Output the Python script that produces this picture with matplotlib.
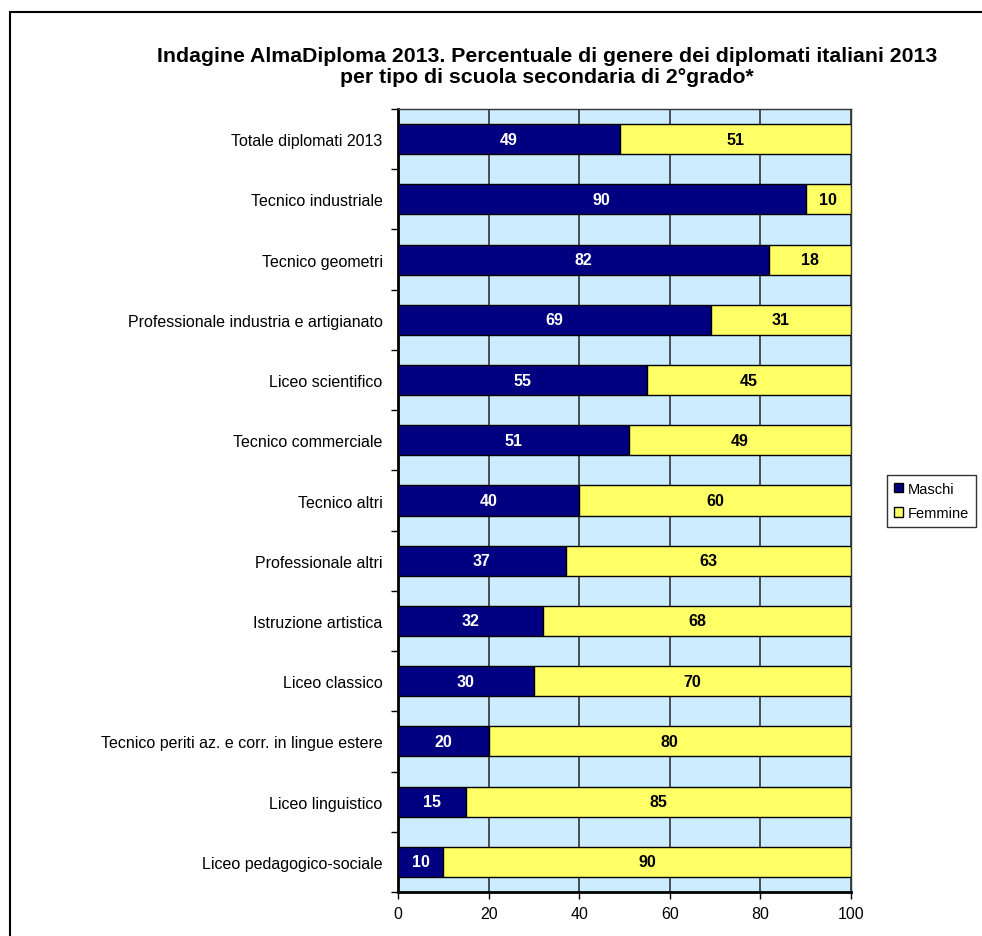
import matplotlib.pyplot as plt
import numpy as np
from matplotlib.patches import Rectangle, Patch

plt.rcParams['font.family'] = ['Liberation Sans', 'DejaVu Sans']

# Percentuali per tipo di scuola
scuole = ['Totale diplomati 2013', 'Tecnico industriale', 'Tecnico geometri',
          'Professionale industria e artigianato', 'Liceo scientifico',
          'Tecnico commerciale', 'Tecnico altri', 'Professionale altri',
          'Istruzione artistica', 'Liceo classico',
          'Tecnico periti az. e corr. in lingue estere', 'Liceo linguistico',
          'Liceo pedagogico-sociale']
maschi = [49, 90, 82, 69, 55, 51, 40, 37, 32, 30, 20, 15, 10]
femmine = [51, 10, 18, 31, 45, 49, 60, 63, 68, 70, 80, 85, 90]
xticks = [0, 20, 40, 60, 80, 100]

blu = '#000080'
giallo = '#FFFF66'
sfondo = '#CCECFF'

fig = plt.figure(figsize=(9.82, 9.37), dpi=100)
fig.patches.append(Rectangle((10 / 982, -0.05), 1.0, 1 - 13 / 937 + 0.05,
                             transform=fig.transFigure, fill=False,
                             edgecolor='black', linewidth=1.5))

ax = fig.add_axes([398 / 982, 1 - 893 / 937, 453 / 982, 783 / 937])
ax.set_facecolor(sfondo)

y = np.arange(len(scuole))
ax.barh(y, maschi, height=0.5, color=blu, edgecolor='black', linewidth=1, zorder=3, label='Maschi')
ax.barh(y, femmine, left=maschi, height=0.5, color=giallo, edgecolor='black', linewidth=1,
        zorder=3, label='Femmine')

for i, (m, f) in enumerate(zip(maschi, femmine)):
    ax.text(m / 2, i, str(m), ha='center', va='center', color='white',
            fontsize=11.5, fontweight='bold', zorder=4)
    ax.text(m + f / 2, i, str(f), ha='center', va='center', color='black',
            fontsize=11.5, fontweight='bold', zorder=4)

ax.set_xlim(0, 100)
ax.set_ylim(len(scuole) - 0.5, -0.5)
ax.set_xticks(xticks)
ax.set_xticklabels([str(v) for v in xticks], fontsize=11.5)
ax.set_yticks(y)
ax.set_yticklabels(scuole, fontsize=11.5)
ax.tick_params(axis='y', length=0, pad=11)
ax.set_yticks(np.arange(-0.5, len(scuole)), minor=True)
ax.tick_params(axis='y', which='minor', length=5, width=1, direction='out')
ax.tick_params(axis='x', length=5, width=1, direction='out', pad=5)

ax.grid(axis='x', color='#333333', linewidth=1.2, zorder=1)
ax.set_axisbelow(True)
for side in ['top', 'right']:
    ax.spines[side].set_linewidth(1)
    ax.spines[side].set_color('#333333')
for side in ['left', 'bottom']:
    ax.spines[side].set_linewidth(2)

fig.text(0.557, 1 - 67 / 937,
         'Indagine AlmaDiploma 2013. Percentuale di genere dei diplomati italiani 2013\n'
         'per tipo di scuola secondaria di 2°grado*',
         ha='center', va='center', fontsize=15.3, fontweight='bold', linespacing=1.17)

handles = [Patch(facecolor=blu, edgecolor='black', label='Maschi'),
           Patch(facecolor=giallo, edgecolor='black', label='Femmine')]
fig.legend(handles=handles, loc='center left', bbox_to_anchor=(887 / 982, 1 - 502 / 937),
           fontsize=10.5, frameon=True, fancybox=False, edgecolor='black',
           handlelength=0.6, handleheight=0.6, handletextpad=0.3,
           borderpad=0.5, labelspacing=0.7, borderaxespad=0)

fig.savefig('out.png', dpi=100)
